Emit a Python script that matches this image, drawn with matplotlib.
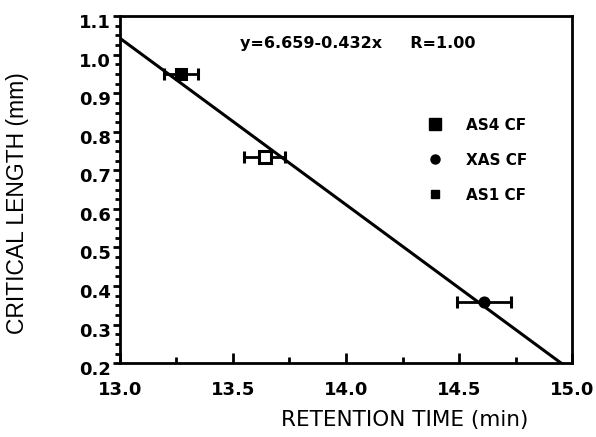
import numpy as np
import matplotlib.pyplot as plt
import matplotlib.transforms as mtransforms
from matplotlib.lines import Line2D
from matplotlib.ticker import MultipleLocator

plt.rcParams['font.family'] = ['DejaVu Sans']

# fibre samples: retention time (min) vs critical length (mm)
labels = ["AS4 CF", "XAS CF", "AS1 CF"]
ret_time = [13.64, 14.61, 13.27]
ret_err = [0.09, 0.12, 0.075]
crit_len = [0.735, 0.358, 0.950]
markers = ["s", "o", "s"]
msizes = [8, 6.5, 7.5]
faces = ["white", "black", "black"]
leg_sizes = [8.5, 6.5, 6]

# fitted line y = a + b*x
fit_a, fit_b = 6.659, -0.432
fit_x = [13.0, 15.0]

fig = plt.figure(figsize=(5.96, 4.37), dpi=100)
ax = fig.add_axes([0.201, 0.169, 0.759, 0.794])

xs = np.array(fit_x)
ax.plot(xs, fit_a + fit_b * xs, color='black', lw=2.2, zorder=2)

for x, xe, y, m, ms, fc in zip(ret_time, ret_err, crit_len, markers, msizes, faces):
    ax.errorbar(x, y, xerr=xe, fmt=m, ms=ms, mfc=fc, mec='black', mew=2.2,
                color='black', ecolor='black', elinewidth=2, capsize=4.5,
                capthick=2, zorder=3)

ax.set_xlim(13.0, 15.0)
ax.set_ylim(0.2, 1.1)
ax.xaxis.set_major_locator(MultipleLocator(0.5))
ax.xaxis.set_minor_locator(MultipleLocator(0.25))
ax.yaxis.set_major_locator(MultipleLocator(0.1))
ax.yaxis.set_minor_locator(MultipleLocator(0.025))
ax.xaxis.set_major_formatter(plt.FormatStrFormatter('%.1f'))
ax.yaxis.set_major_formatter(plt.FormatStrFormatter('%.1f'))

ax.tick_params(axis='x', which='both', direction='in', top=False, width=2, labelsize=13, pad=13)
ax.tick_params(axis='x', which='major', length=7)
ax.tick_params(axis='x', which='minor', length=4)
ax.tick_params(axis='y', which='both', direction='out', right=False, width=2, labelsize=13, pad=1.5)
ax.tick_params(axis='y', which='major', length=5)
ax.tick_params(axis='y', which='minor', length=3.5)
for t in ax.get_xticklabels() + ax.get_yticklabels():
    t.set_fontweight('bold')
# labels in the scan sit a little below their ticks
shift = mtransforms.ScaledTranslation(0, -5 / 100, fig.dpi_scale_trans)
for t in ax.get_yticklabels():
    t.set_transform(t.get_transform() + shift)
for sp in ax.spines.values():
    sp.set_linewidth(2)

ax.set_xlabel("RETENTION TIME (min)", fontsize=15.5)
ax.xaxis.set_label_coords(0.629, -0.136)
ax.set_ylabel("CRITICAL LENGTH (mm)", fontsize=16.5, family='Liberation Sans')
ax.yaxis.set_label_coords(-0.20, 0.461)

ax.text(13.53, 1.03, "y=6.659-0.432x     R=1.00", fontsize=11.5,
        fontweight='bold', va='center')

handles = [Line2D([], [], ls='none', marker=m, ms=s, mfc='black', mec='black')
           for m, s in zip(markers, leg_sizes)]
ax.legend(handles, labels, loc='center left', bbox_to_anchor=(0.664, 0.585),
          frameon=False, borderpad=0, handlelength=1.0, handletextpad=1.5,
          labelspacing=1.3, prop={'size': 11, 'weight': 'bold'})

fig.savefig("out.png", dpi=100)
